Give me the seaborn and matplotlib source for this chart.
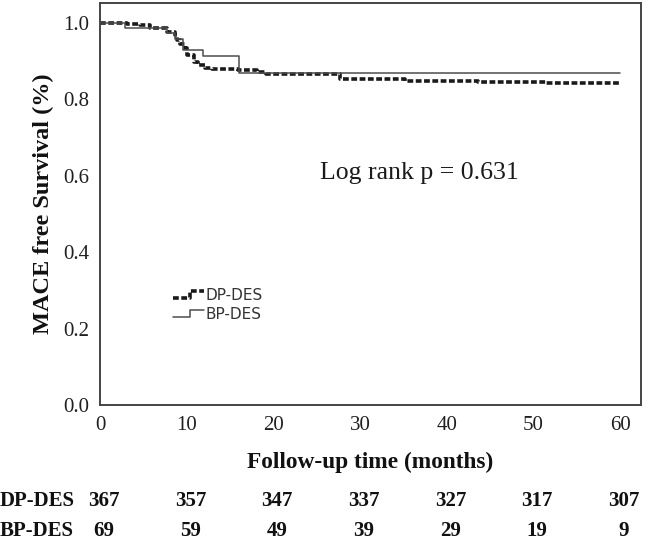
import numpy as np
import pandas as pd
import matplotlib
matplotlib.use("Agg")
import matplotlib.pyplot as plt
import seaborn as sns
from matplotlib.lines import Line2D
from matplotlib.legend_handler import HandlerLine2D

# ---- data ----
dp_time = [0, 3.1, 4.6, 5.8, 7.7, 8.65, 8.9, 9.2, 9.8, 10.0, 10.8, 11.3, 12.1, 12.9,
           15.9, 18.1, 19.2, 27.7, 35.2, 43.6, 51.5, 60]
dp_surv = [1.0, 0.996, 0.993, 0.985, 0.976, 0.969, 0.956, 0.943, 0.933, 0.915, 0.898,
           0.889, 0.882, 0.878, 0.876, 0.871, 0.865, 0.854, 0.847, 0.844, 0.841, 0.841]
bp_time = [0, 2.9, 7.7, 8.6, 9.6, 11.9, 16.0, 60]
bp_surv = [1.0, 0.986, 0.973, 0.957, 0.928, 0.912, 0.868, 0.868]

groups = ["DP-DES", "BP-DES"]
risk_times = [0, 10, 20, 30, 40, 50, 60]
dp_risk = [367, 357, 347, 337, 327, 317, 307]
bp_risk = [69, 59, 49, 39, 29, 19, 9]
x_ticks = [0, 10, 20, 30, 40, 50, 60]
y_ticks = [0.0, 0.2, 0.4, 0.6, 0.8, 1.0]
p_text = "Log rank p = 0.631"

df = pd.concat([
    pd.DataFrame({"time": dp_time, "surv": dp_surv, "group": groups[0]}),
    pd.DataFrame({"time": bp_time, "surv": bp_surv, "group": groups[1]}),
])

sns.set_style("white")
serif = ["Liberation Serif", "DejaVu Serif"]
plt.rcParams["font.family"] = serif

fig = plt.figure(figsize=(6.46, 5.45), dpi=100)
ax = fig.add_axes([0.1548, 0.2569, 0.992 - 0.1548, 0.9945 - 0.2569])

dp_style = dict(color="#1a1a1a", linewidth=2.6, dashes=(1.6, 0.7))
bp_style = dict(color="#4d4d4d", linewidth=1.1)

sns.lineplot(data=df[df.group == groups[0]], x="time", y="surv", ax=ax,
             drawstyle="steps-post", estimator=None, legend=False, **dp_style)
sns.lineplot(data=df[df.group == groups[1]], x="time", y="surv", ax=ax,
             drawstyle="steps-post", estimator=None, legend=False, **bp_style)

ax.set_xlim(0, 62.4)
ax.set_ylim(0, 1.0515)
ax.set_xticks(x_ticks)
ax.set_yticks(y_ticks)
ax.set_xticklabels([str(t) for t in x_ticks])
ax.set_yticklabels([f"{t:.1f}" for t in y_ticks])
ax.tick_params(axis="both", direction="out", length=7, width=1.2, colors="#333333",
               labelsize=15, labelcolor="#1f1f1f", pad=1)
for s in ax.spines.values():
    s.set_color("#444444")
    s.set_linewidth(1.4)
    s.set_visible(True)

ax.set_xlabel("Follow-up time (months)", fontsize=16.8, fontweight="bold",
              color="#111111", labelpad=12)
ax.set_ylabel("MACE free Survival (%)", fontsize=17.5, fontweight="bold",
              color="#111111", labelpad=6)

ax.text(25.4, 0.607, p_text, fontsize=18.5, color="#1a1a1a", va="center", ha="left")


class StepHandler(HandlerLine2D):
    def create_artists(self, legend, orig_handle, xdescent, ydescent, width, height,
                       fontsize, trans):
        x0 = -xdescent
        xs = [x0, x0 + width * 0.55, x0 + width * 0.55, x0 + width]
        ys = [height * 0.15 - ydescent, height * 0.15 - ydescent,
              height * 0.85 - ydescent, height * 0.85 - ydescent]
        ln = Line2D(xs, ys)
        self.update_prop(ln, orig_handle, legend)
        ln.set_transform(trans)
        return [ln]


h1 = Line2D([], [], **dp_style)
h2 = Line2D([], [], **bp_style)
leg = ax.legend([h1, h2], groups, loc="upper left", bbox_to_anchor=(0.11, 0.325),
                frameon=False, handlelength=2.0, handletextpad=0.1, labelspacing=0.25,
                prop={"family": ["DejaVu Sans"], "size": 11},
                handler_map={Line2D: StepHandler()})
for t in leg.get_texts():
    t.set_color("#333333")

# number at risk table
row_y = [501, 531]
for yy, label, vals in zip(row_y, groups, [dp_risk, bp_risk]):
    yf = 1 - yy / 545
    fig.text(0.0, yf, label, fontsize=15, fontweight="bold", ha="left", va="center",
             color="#111111")
    for t, v in zip(risk_times, vals):
        xf = ax.transData.transform((t, 0))[0] / fig.bbox.width
        fig.text(xf + 0.006, yf, str(v), fontsize=15, fontweight="bold", ha="center",
                 va="center", color="#111111")

fig.savefig("out.png", dpi=100)
